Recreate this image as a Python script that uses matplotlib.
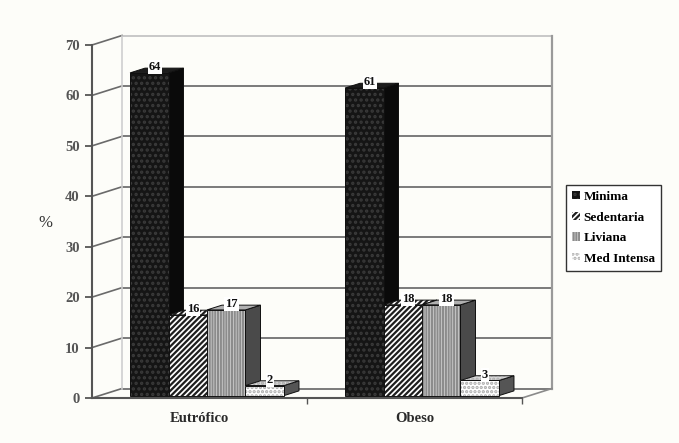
import matplotlib.pyplot as plt
from matplotlib.patches import Polygon, Patch

categories = ["Eutrófico", "Obeso"]
series = ["Minima", "Sedentaria", "Liviana", "Med Intensa"]
minima = [64, 61]
sedentaria = [16, 18]
liviana = [17, 18]
med_intensa = [2, 3]
yticks = [0, 10, 20, 30, 40, 50, 60, 70]

values = [minima, sedentaria, liviana, med_intensa]

plt.rcParams['font.family'] = ['Liberation Serif', 'DejaVu Serif']
plt.rcParams['font.weight'] = 'bold'
plt.rcParams['hatch.linewidth'] = 1.6

BG = '#fdfdf9'
fig = plt.figure(figsize=(6.79, 4.43), dpi=100, facecolor=BG)
ax = fig.add_axes([92 / 679, 45 / 443, 430 / 679, 353 / 443])
ax.set_xlim(-0.5, 1.5)
ax.set_ylim(0, 70)
ax.patch.set_visible(False)

# depth of the 3d box, in data units
DX = 30 / 215
DY = 9.5 / (353 / 70)
x_left, x_right = -0.5, 1.5

# back wall gridlines and left side wall
for v in yticks:
    col = '#c8c8c8' if v == yticks[-1] else '#7a7a7a'
    ax.plot([x_left + DX, x_right + DX], [v + DY, v + DY], color=col, lw=1.4,
            clip_on=False, zorder=1)
    ax.plot([x_left, x_left + DX], [v, v + DY], color='#6a6a6a', lw=1.2,
            clip_on=False, zorder=1)
ax.plot([x_left + DX, x_left + DX], [DY, yticks[-1] + DY], color='#cfcfcf',
        lw=1.2, clip_on=False, zorder=1)
ax.plot([x_right + DX, x_right + DX], [DY, yticks[-1] + DY], color='#9a9a9a',
        lw=1.6, clip_on=False, zorder=1)
ax.plot([x_right, x_right + DX], [0, DY], color='#8a8a8a', lw=1.2,
        clip_on=False, zorder=1)

styles = [
    dict(front='#151515', hatch='...', hc='#3a3a3a', side='#0a0a0a', top='#1c1c1c'),
    dict(front='white', hatch='//////', hc='#1e1e1e', side='#3a3a3a', top='white'),
    dict(front='#ececec', hatch='||||||', hc='#8c8c8c', side='#4a4a4a', top='#b0b0b0'),
    dict(front='white', hatch='....', hc='#ababab', side='#555555', top='#d8d8d8'),
]

group_w = 0.716
bar_w = group_w / len(series)
f1, f2 = 0.25, 0.75


def face(pts, st, fill, hatch=None):
    ax.add_patch(Polygon(pts, closed=True, facecolor=fill, edgecolor=st['hc'],
                         hatch=hatch, lw=0, zorder=3, clip_on=False))
    ax.add_patch(Polygon(pts, closed=True, fill=False, edgecolor='#101010',
                         lw=0.7, zorder=3, clip_on=False))


for g in range(len(categories)):
    for i, st in enumerate(styles):
        v = values[i][g]
        x0 = g - group_w / 2 + i * bar_w
        x1 = x0 + bar_w
        side = [(x1 + f1 * DX, f1 * DY), (x1 + f2 * DX, f2 * DY),
                (x1 + f2 * DX, v + f2 * DY), (x1 + f1 * DX, v + f1 * DY)]
        top = [(x0 + f1 * DX, v + f1 * DY), (x1 + f1 * DX, v + f1 * DY),
               (x1 + f2 * DX, v + f2 * DY), (x0 + f2 * DX, v + f2 * DY)]
        front = [(x0 + f1 * DX, f1 * DY), (x1 + f1 * DX, f1 * DY),
                 (x1 + f1 * DX, v + f1 * DY), (x0 + f1 * DX, v + f1 * DY)]
        face(side, st, st['side'])
        face(top, st, st['top'], st['hatch'] if i in (1, 3) else None)
        face(front, st, st['front'], st['hatch'])
        ax.text(x0 + bar_w / 2 + f1 * DX + 0.025, v + f1 * DY + 1.1, str(v),
                ha='center', va='center', fontsize=9, color='#111111', zorder=5,
                bbox=dict(facecolor='white', edgecolor='none', pad=0.6))

# axes
for s in ('top', 'right'):
    ax.spines[s].set_visible(False)
ax.spines['left'].set_color('#555555')
ax.spines['left'].set_linewidth(1.5)
ax.spines['bottom'].set_color('#555555')
ax.spines['bottom'].set_linewidth(1.5)
ax.set_yticks(yticks)
ax.tick_params(axis='y', direction='out', length=5, width=1.3, color='#555555',
               labelsize=10.5, labelcolor='#555555', pad=4)
ax.set_xticks(range(len(categories)))
ax.set_xticklabels(categories)
ax.set_xticks([0.5, 1.5], minor=True)
ax.tick_params(axis='x', which='major', length=0, labelsize=10.5,
               labelcolor='#2a2a2a', pad=10)
ax.tick_params(axis='x', which='minor', direction='out', length=4, width=1,
               color='#555555')
ax.set_ylabel('%', rotation=0, fontsize=12, color='#333333', va='center',
              ha='center')
ax.yaxis.set_label_coords(-47 / 430, 0.496)

handles = [Patch(facecolor=st['front'], edgecolor=st['hc'], hatch=st['hatch'],
                 lw=0) for st in styles]
leg = fig.legend(handles, series, loc='upper left',
                 bbox_to_anchor=(566 / 679, 1 - 185 / 443), borderaxespad=0,
                 fontsize=9.5, handlelength=0.6, handleheight=0.6,
                 handletextpad=0.3, labelspacing=0.65, borderpad=0.45,
                 fancybox=False, frameon=True, framealpha=1, facecolor='white',
                 edgecolor='#333333')
leg.get_frame().set_linewidth(1.0)

fig.savefig('out.png', dpi=100, facecolor=BG)
